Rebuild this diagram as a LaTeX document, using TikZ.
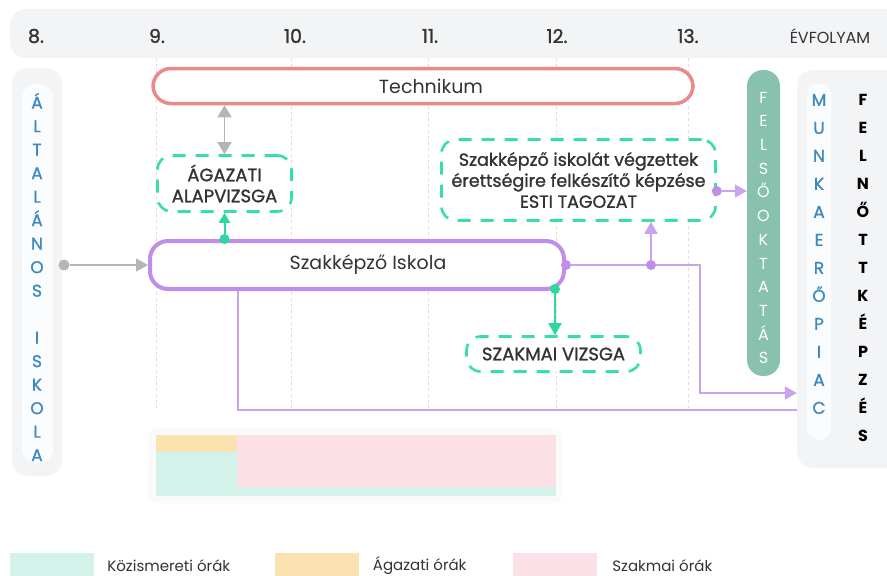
\documentclass[tikz,border=0pt]{standalone}
\usepackage{fontspec}
\setmainfont{Poppins}
\newfontfamily\medfont{Poppins}[FakeBold=1.2]
\usetikzlibrary{arrows.meta,positioning}
\definecolor{txt}{HTML}{333333}
\definecolor{bandgrey}{HTML}{F3F4F6}
\definecolor{paleback}{HTML}{FBFCFD}
\definecolor{yearpink}{HTML}{F2D3D8}
\definecolor{techred}{HTML}{E98A8A}
\definecolor{lilac}{HTML}{BE8EE8}
\definecolor{lilacthin}{HTML}{C8A3EE}
\definecolor{mint}{HTML}{36DFAA}
\definecolor{mintdot}{HTML}{2DD89E}
\definecolor{arrgrey}{HTML}{B5B5B5}
\definecolor{felsogreen}{HTML}{88C2AE}
\definecolor{iskblue}{HTML}{3E8AC0}
\definecolor{koz}{HTML}{D3F2EA}
\definecolor{aga}{HTML}{FCE2B0}
\definecolor{szakpink}{HTML}{FBE1E6}
\tikzset{
  yearlbl/.style={text=txt, font=\medfont\fontsize{19}{22}\selectfont},
  yearline/.style={draw=yearpink, dashed, line width=0.8pt},
  pathbox/.style={draw, fill=white, text=txt, line width=3.5pt, rounded corners=18pt, font=\fontsize{19}{22}\selectfont},
  exambox/.style={draw=mint, fill=white, text=txt, line width=2.6pt, dash pattern=on 13pt off 10pt, rounded corners=14pt, align=center, inner sep=0pt, font=\medfont\fontsize{18}{21}\selectfont},
  dot/.style={circle, fill=#1, inner sep=0pt, minimum size=10pt},
  greyarrow/.style={draw=arrgrey, line width=1.8pt},
  greenarrow/.style={draw=mintdot, line width=2pt},
  purplearrow/.style={draw=lilacthin, line width=1.6pt},
  endtip/.style={-{Triangle[length=12pt,width=13pt]}},
  stack/.style={align=center, inner sep=0pt},
  legendbox/.style={minimum width=84pt, minimum height=26pt, inner sep=0pt},
  legendtxt/.style={inner sep=0pt, text=txt, font=\fontsize{15}{18}\selectfont},
}
\begin{document}
\begin{tikzpicture}[x=1pt,y=-1pt]
  \useasboundingbox (0,0) rectangle (887,576);
  % years
  \fill[bandgrey, rounded corners=16pt] (10,9) rectangle (910,58);
  \foreach \yr/\x in {8/36,9/157,10/295,11/430,12/557,13/688}
    \node[yearlbl] (yr\yr) at (\x,36) {\yr.};
  \node[yearlbl, font=\fontsize{16}{20}\selectfont] (evf) at (830,36) {ÉVFOLYAM};
  \foreach \x in {156,291,428,556,688}
    \draw[yearline] (\x,58) -- (\x,408);
  % side columns
  \fill[bandgrey, rounded corners=16pt] (12,68) rectangle (62,476);
  \fill[paleback, rounded corners=14pt] (22,84) rectangle (53,463);
  \node[stack, text=iskblue, font=\medfont\fontsize{17}{23.5}\selectfont] (altisk) at (37,277)
    {Á\\L\\T\\A\\L\\Á\\N\\O\\S\\[23.5pt]I\\S\\K\\O\\L\\A};
  \node[fill=felsogreen, rounded corners=16pt, minimum width=33pt, minimum height=306pt] (felso) at (763.5,223) {};
  \node[stack, text=white, font=\fontsize{16}{23.7}\selectfont] (felsotxt) at (763.5,228)
    {F\\E\\L\\S\\Ő\\O\\K\\T\\A\\T\\Á\\S};
  \node[fill=bandgrey, rounded corners=16pt, minimum width=120pt, minimum height=398pt] (munka) at (857,269) {};
  \fill[paleback, rounded corners=12pt] (807,83) rectangle (831,440);
  \node[stack, text=iskblue, font=\medfont\fontsize{17}{28}\selectfont] (munkatxt) at (819,254)
    {M\\U\\N\\K\\A\\E\\R\\Ő\\P\\I\\A\\C};
  \node[stack, text=black, font=\bfseries\fontsize{16}{28}\selectfont] (felnott) at (863,268)
    {F\\E\\L\\N\\Ő\\T\\T\\K\\É\\P\\Z\\É\\S};
  % boxes
  \node[pathbox, draw=techred, minimum width=540pt, minimum height=35pt] (tech) at (423,86) {\hspace*{16pt}Technikum};
  \node[pathbox, draw=lilac, line width=4pt, minimum width=414pt, minimum height=48pt] (szak) at (357,265) {\hspace*{22pt}Szakképző Iskola};
  \node[exambox, minimum width=134pt, minimum height=56pt] (aga) at (224.5,183.5) {ÁGAZATI\\ALAPVIZSGA};
  \node[exambox, minimum width=274pt, minimum height=81pt, font=\medfont\fontsize{17.5}{21}\selectfont] (esti) at (578.5,180)
    {Szakképző iskolát végzettek\\érettségire felkészítő képzése\\ESTI TAGOZAT};
  \node[exambox, minimum width=174pt, minimum height=35pt] (szvizsga) at (553.5,354) {SZAKMAI VIZSGA};
  % connectors
  \node[dot=arrgrey, minimum size=11pt] (altdot) at (64,265) {};
  \draw[greyarrow, endtip] (altdot) -- (szak.west);
  \draw[greyarrow, {Triangle[length=12pt,width=14pt]}-{Triangle[length=12pt,width=14pt]}] (tech.south -| aga.north) -- (aga.north);
  \node[dot=mintdot] (agadot) at (szak.north -| aga.south) {};
  \draw[greenarrow, -{Triangle[length=10pt,width=11pt]}] (agadot) -- (aga.south);
  \node[dot=mintdot] (vizsgadot) at (555,289) {};
  \draw[greenarrow, -{Triangle[length=12pt,width=13pt]}] (vizsgadot) -- (vizsgadot |- szvizsga.north);
  \node[dot=lilac] (szakdot) at (szak.east) {};
  \node[dot=lilac] (estidot) at (651,265) {};
  \coordinate (pturn) at (700,265);
  \coordinate (munkain) at (munka.west |- 0,393);
  \draw[purplearrow] (szakdot) -- (estidot);
  \draw[purplearrow, endtip] (estidot) -- (estidot |- esti.south);
  \draw[purplearrow, endtip] (estidot) -- (pturn) |- (munkain);
  \coordinate (lowturn) at (238,410);
  \draw[purplearrow] (szak.south -| lowturn) -- (lowturn) -- (lowturn -| munka.west);
  \node[dot=lilac] (estiright) at ([yshift=-11pt]esti.east) {};
  \draw[purplearrow, endtip] (estiright) -- (estiright -| felso.west);
  % hours chart
  \fill[bandgrey!45, rounded corners=10pt] (148,428) rectangle (563,503);
  \fill[aga] (156,435) rectangle (237,452);
  \fill[koz] (156,452) rectangle (237,496);
  \fill[szakpink] (237,435) rectangle (556,487);
  \fill[koz] (237,487) rectangle (556,496);
  % legend
  \node[legendbox, fill=koz] (kozbox) at (52,566) {};
  \node[legendtxt, right=13pt of kozbox] (koztxt) {Közismereti órák};
  \node[legendbox, fill=aga] (agabox) at (316.5,566) {};
  \node[legendtxt, right=14pt of agabox] (agatxt) {Ágazati órák};
  \node[legendbox, fill=szakpink] (szakbox) at (555,566) {};
  \node[legendtxt, right=15pt of szakbox] (szaktxt) {Szakmai órák};
\end{tikzpicture}
\end{document}
